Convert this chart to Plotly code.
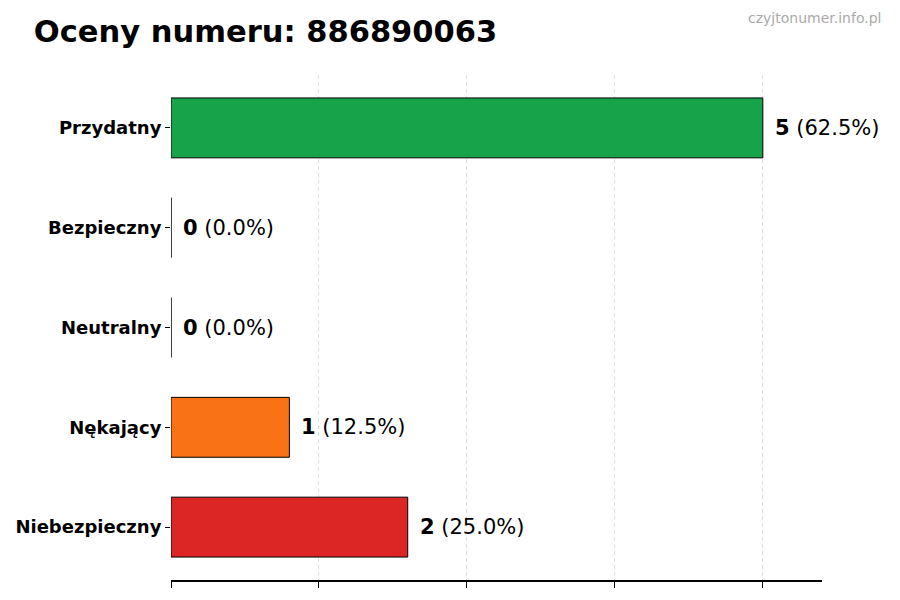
import plotly.graph_objects as go

# dane z wykresu (od dołu do góry)
categories = ["Niebezpieczny", "Nękający", "Neutralny", "Bezpieczny", "Przydatny"]
counts = [2, 1, 0, 0, 5]
percents = [25.0, 12.5, 0.0, 0.0, 62.5]
colors = ["#dc2626", "#f97316", "#9ca3af", "#3b82f6", "#16a34a"]
x_ticks = [0, 1.25, 2.5, 3.75, 5]

fig = go.Figure()
fig.add_trace(go.Bar(
    y=categories,
    x=counts,
    orientation="h",
    width=0.6,
    marker=dict(color=colors, line=dict(color="black", width=1)),
    hoverinfo="skip",
))

# etykiety z wartością i procentem
for cat, c, p in zip(categories, counts, percents):
    fig.add_annotation(
        x=c, y=cat, xref="x", yref="y",
        text=f"<b>{c}</b> ({p:.1f}%)",
        showarrow=False, xanchor="left", xshift=10,
        font=dict(size=21, color="black", family="DejaVu Sans"),
    )

fig.add_annotation(
    x=1, y=1, xref="paper", yref="paper", xanchor="right", yanchor="top",
    xshift=61, yshift=67,
    text="czyjtonumer.info.pl", showarrow=False,
    font=dict(size=14, color="#aaaaaa", family="DejaVu Sans"),
)

# strona ma 8px marginesu body, więc figura jest o 8px mniejsza
fig.update_layout(
    width=892, height=592,
    plot_bgcolor="white", paper_bgcolor="white",
    margin=dict(l=163, r=78, t=67, b=20),
    showlegend=False,
    title=dict(
        text="<b>Oceny numeru: 886890063</b>",
        x=0.029, xanchor="left", y=0.961, yanchor="middle",
        font=dict(size=30.5, color="black", family="DejaVu Sans"),
    ),
    font=dict(family="DejaVu Sans"),
)
fig.update_xaxes(
    range=[0, 5.5], tickvals=x_ticks, showticklabels=False,
    ticks="outside", ticklen=6, tickcolor="black",
    showline=True, linecolor="black", linewidth=1.5,
    showgrid=True, gridcolor="#e0e0e0", griddash="4px,3px", gridwidth=1,
    zeroline=False, layer="above traces", automargin=False,
)
fig.update_yaxes(
    range=[-0.53, 4.53], categoryorder="array", categoryarray=categories,
    ticks="outside", ticklen=5, tickcolor="black",
    tickfont=dict(size=18, color="black", family="DejaVu Sans", weight="bold"),
    showline=False, showgrid=False, zeroline=False, automargin=False,
)

fig.write_html("out.html")
